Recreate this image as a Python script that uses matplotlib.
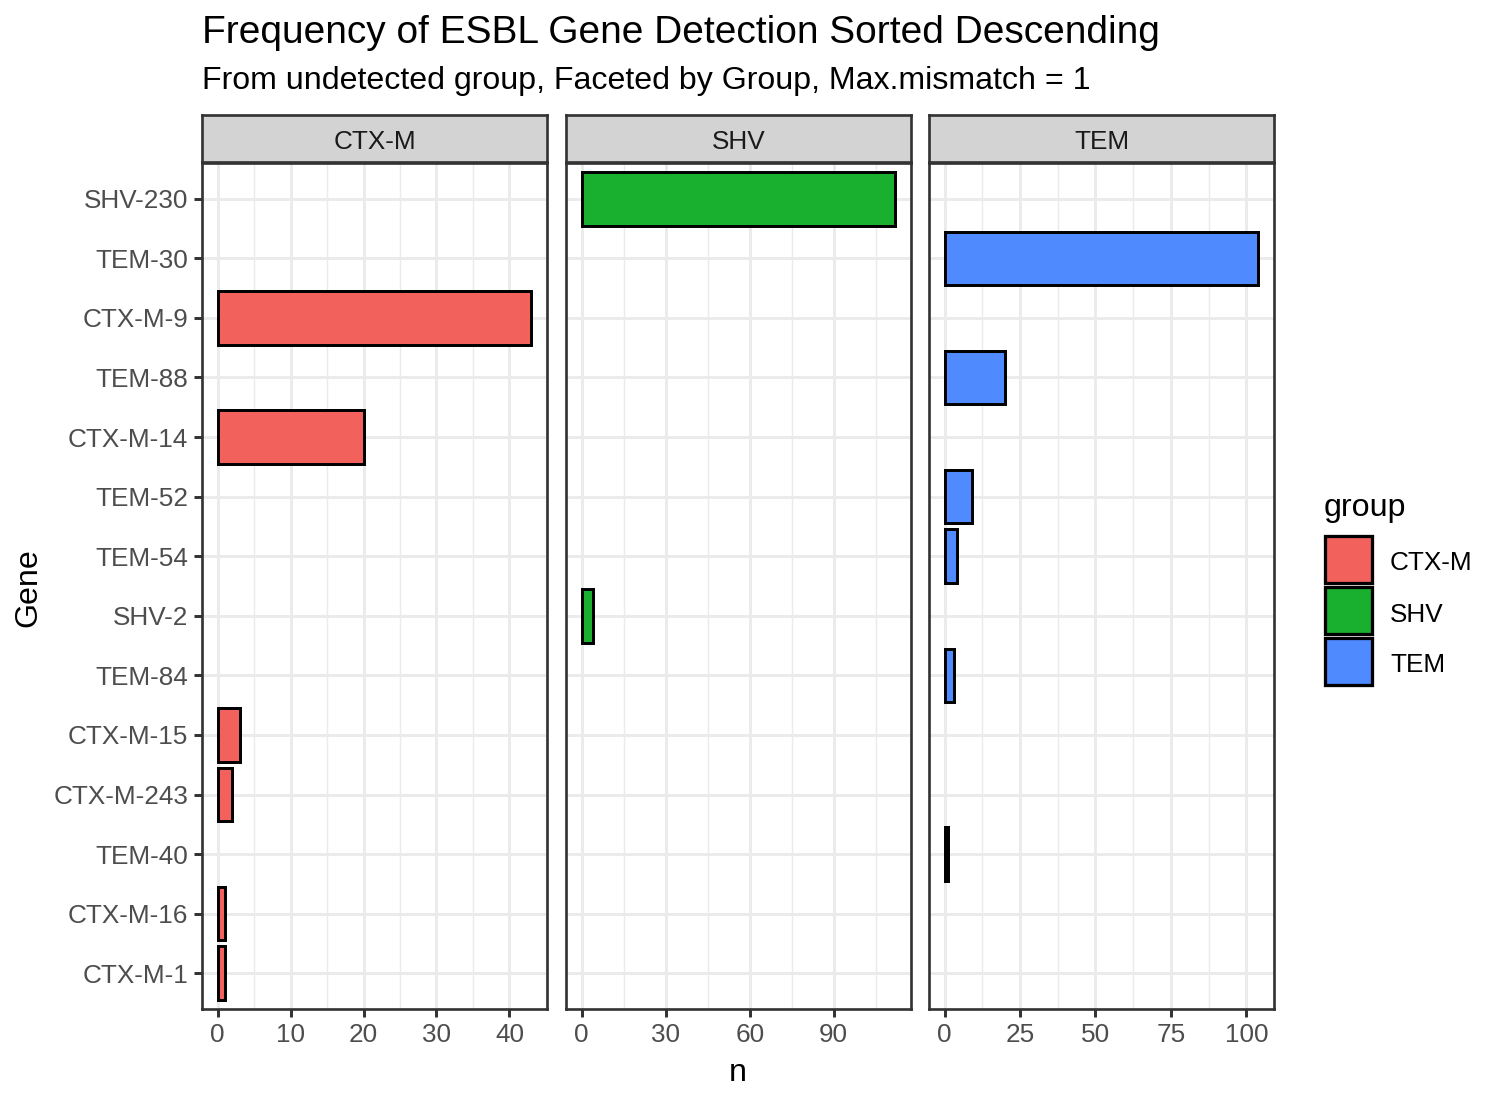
import matplotlib
matplotlib.use('Agg')
import matplotlib.pyplot as plt
from matplotlib.patches import Rectangle
import numpy as np

plt.rcParams['font.family'] = ['Liberation Sans', 'DejaVu Sans']

# gene order, top to bottom
genes = ['SHV-230', 'TEM-30', 'CTX-M-9', 'TEM-88', 'CTX-M-14', 'TEM-52', 'TEM-54',
         'SHV-2', 'TEM-84', 'CTX-M-15', 'CTX-M-243', 'TEM-40', 'CTX-M-16', 'CTX-M-1']

groups = ['CTX-M', 'SHV', 'TEM']
group_colors = ['#F3615D', '#1AB02F', '#4F8AFF']

ctxm_genes = ['CTX-M-9', 'CTX-M-14', 'CTX-M-15', 'CTX-M-243', 'CTX-M-16', 'CTX-M-1']
ctxm_n = [43, 20, 3, 2, 1, 1]
shv_genes = ['SHV-230', 'SHV-2']
shv_n = [112, 4]
tem_genes = ['TEM-30', 'TEM-88', 'TEM-52', 'TEM-54', 'TEM-84', 'TEM-40']
tem_n = [104, 20, 9, 4, 3, 1]

ctxm_ticks = [0, 10, 20, 30, 40]
shv_ticks = [0, 30, 60, 90]
tem_ticks = [0, 25, 50, 75, 100]

W, H = 1504, 1104
DPI = 200
fig = plt.figure(figsize=(W / DPI, H / DPI), dpi=DPI)
fig.patch.set_facecolor('white')

fs_title, fs_sub, fs_lab, fs_tick = 14.0, 11.55, 11.6, 9.4


def px_axes(x0, y0, x1, y1):
    return fig.add_axes([x0 / W, 1 - y1 / H, (x1 - x0) / W, (y1 - y0) / H])


panels = [(202, 547), (566, 911), (929, 1274)]
ptop, pbot = 163, 1009
data = [(ctxm_genes, ctxm_n, ctxm_ticks), (shv_genes, shv_n, shv_ticks), (tem_genes, tem_n, tem_ticks)]

ypos = {g: len(genes) - 1 - i for i, g in enumerate(genes)}
lw = 1.07
grid_c = '#EBEBEB'

for k, ((x0, x1), (gs, ns, ticks), col, grp) in enumerate(zip(panels, data, group_colors, groups)):
    ax = px_axes(x0, ptop, x1, pbot)
    vmax = max(ns)
    ax.set_xlim(-0.05 * vmax, 1.05 * vmax)
    ax.set_ylim(-0.6, len(genes) - 1 + 0.6)
    # grid
    step = ticks[1] - ticks[0]
    minors = np.arange(-step / 2, vmax * 1.05, step)
    for m in minors:
        ax.axvline(m, color=grid_c, lw=lw / 2, zorder=0)
    for t in ticks:
        ax.axvline(t, color=grid_c, lw=lw, zorder=0)
    for i in range(len(genes)):
        ax.axhline(i, color=grid_c, lw=lw, zorder=0)
    ax.barh([ypos[g] for g in gs], ns, height=0.9, color=col, edgecolor='black',
            linewidth=lw, zorder=2)
    ax.set_xticks(ticks)
    ax.set_xticklabels([str(t) for t in ticks])
    ax.set_yticks(range(len(genes)))
    if k == 0:
        ax.set_yticklabels(genes[::-1])
    else:
        ax.tick_params(axis='y', left=False, labelleft=False)
    ax.tick_params(colors='#333333', labelcolor='#4D4D4D', labelsize=fs_tick,
                   length=2.75, width=lw, pad=2.2)
    for s in ax.spines.values():
        s.set_color('#333333')
        s.set_linewidth(lw * 0.9)
    ax.set_facecolor('white')

    # strip
    sax = px_axes(x0, 115, x1, 162)
    sax.set_facecolor('#D3D3D3')
    sax.set_xticks([])
    sax.set_yticks([])
    for s in sax.spines.values():
        s.set_color('#333333')
        s.set_linewidth(lw * 0.9)
    sax.text(0.5, 0.47, grp, ha='center', va='center_baseline', fontsize=fs_tick,
             color='#1A1A1A', transform=sax.transAxes)

# titles
fig.text(202 / W, 1 - 33 / H, 'Frequency of ESBL Gene Detection Sorted Descending',
         fontsize=fs_title, ha='left', va='center')
fig.text(202 / W, 1 - 81 / H, 'From undetected group, Faceted by Group, Max.mismatch = 1',
         fontsize=fs_sub, ha='left', va='center')
fig.text(738 / W, 1 - 1073 / H, 'n', fontsize=fs_lab, ha='center', va='center')
fig.text(28 / W, 1 - 588 / H, 'Gene', fontsize=fs_lab, ha='center', va='center', rotation=90)

# legend
fig.text(1324 / W, 1 - 508 / H, 'group', fontsize=fs_lab, ha='left', va='center')
for i, (grp, col) in enumerate(zip(groups, group_colors)):
    cy = 560 + i * 51
    fig.patches.append(Rectangle((1325 / W, 1 - (cy + 23) / H), 47 / W, 47 / H,
                                 transform=fig.transFigure, facecolor=col,
                                 edgecolor='black', linewidth=lw * 1.1))
    fig.text(1390 / W, 1 - (cy + 1) / H, grp, fontsize=fs_tick, ha='left', va='center_baseline')

fig.savefig('out.png', dpi=DPI)
